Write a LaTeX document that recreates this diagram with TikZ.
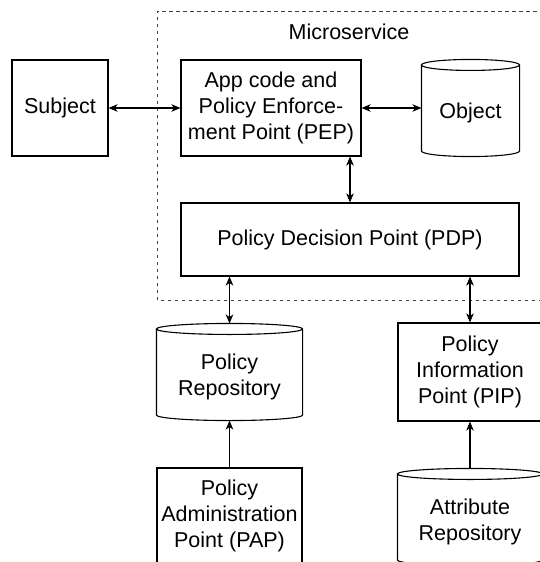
\documentclass[tikz,border=0pt]{standalone}
\usepackage{fontspec}
\setmainfont{Liberation Sans}
\usepackage{tikz}
\usetikzlibrary{arrows.meta,calc}

\newcommand{\lab}{\fontsize{21.5}{26}\selectfont}
\newcommand{\lowtext}[1]{\raisebox{-5pt}[\height][\depth]{\begin{tabular}{@{}c@{}}#1\end{tabular}}}
\newcommand{\drawcyl}[1]{%
\draw[wall] let \p1=(#1.north west), \p2=(#1.south east), \n1={(\x2-\x1)/2} in
(\x1,\y1-5.5pt) -- (\x1,\y2+5.5pt) arc[start angle=180, end angle=360, x radius={\n1*1pt}, y radius=5.5pt]
-- (\x2,\y1-5.5pt) arc[start angle=0, end angle=360, x radius={\n1*1pt}, y radius=5.5pt];}

\tikzset{
wall/.style={line width=1.1pt},
tip/.style={Stealth[length=9pt,width=7.5pt,inset=2.5pt]},
box/.style={draw, wall, align=center, inner sep=0pt, font=\lab},
cyl/.style={box, draw=none},
conn/.style={wall, {Stealth[length=9pt,width=7.5pt,inset=2.5pt]}-{Stealth[length=9pt,width=7.5pt,inset=2.5pt]}},
oneway/.style={wall, -{Stealth[length=9pt,width=7.5pt,inset=2.5pt]}}
}

\begin{document}
\begin{tikzpicture}[x=1pt,y=1pt]
\useasboundingbox (0,0) rectangle (540,-562);
% microservice frame
\draw[line width=1pt, black!75, dash pattern=on 3.5pt off 3.5pt] (157,-300) rectangle (575,-11);
\node[font=\lab] (ms) at (349,-32) {Microservice};

\node[box, minimum width=96pt, minimum height=96pt] (subject) at (60,-108) {Subject};
\node[box, minimum width=180pt, minimum height=96pt] (pep) at (271,-108) {App code and\\Policy Enforce-\\ment Point (PEP)};
\node[cyl, minimum width=97pt, minimum height=96pt] (obj) at (470.5,-108) {\lowtext{Object}};
\node[box, minimum width=338pt, minimum height=73pt] (pdp) at (350,-239.5) {Policy Decision Point (PDP)};

\node[cyl, minimum width=145pt, minimum height=96pt] (repo) at (229.5,-372) {\lowtext{Policy\\Repository}};
\node[box, minimum width=144pt, minimum height=98pt] (pip) at (470,-372) {Policy\\Information\\Point (PIP)};
\node[box, minimum width=145pt, minimum height=96pt] (pap) at (229.5,-516) {Policy\\Administration\\Point (PAP)};
\node[cyl, minimum width=144pt, minimum height=96pt] (attr) at (470,-517) {\lowtext{Attribute\\Repository}};

\drawcyl{obj}
\drawcyl{repo}
\drawcyl{attr}

% connectors
\draw[conn] (subject) -- (pep);
\draw[conn] (pep) -- (obj);
\draw[conn] (pdp.north |- pep.south) -- (pdp.north);
\draw[conn] (repo.north |- pdp.south) -- (repo.north);
\draw[conn] (pip.north |- pdp.south) -- (pip.north);
\draw[oneway] (pap) -- (repo);
\draw[oneway] (attr) -- (pip);
\end{tikzpicture}
\end{document}
